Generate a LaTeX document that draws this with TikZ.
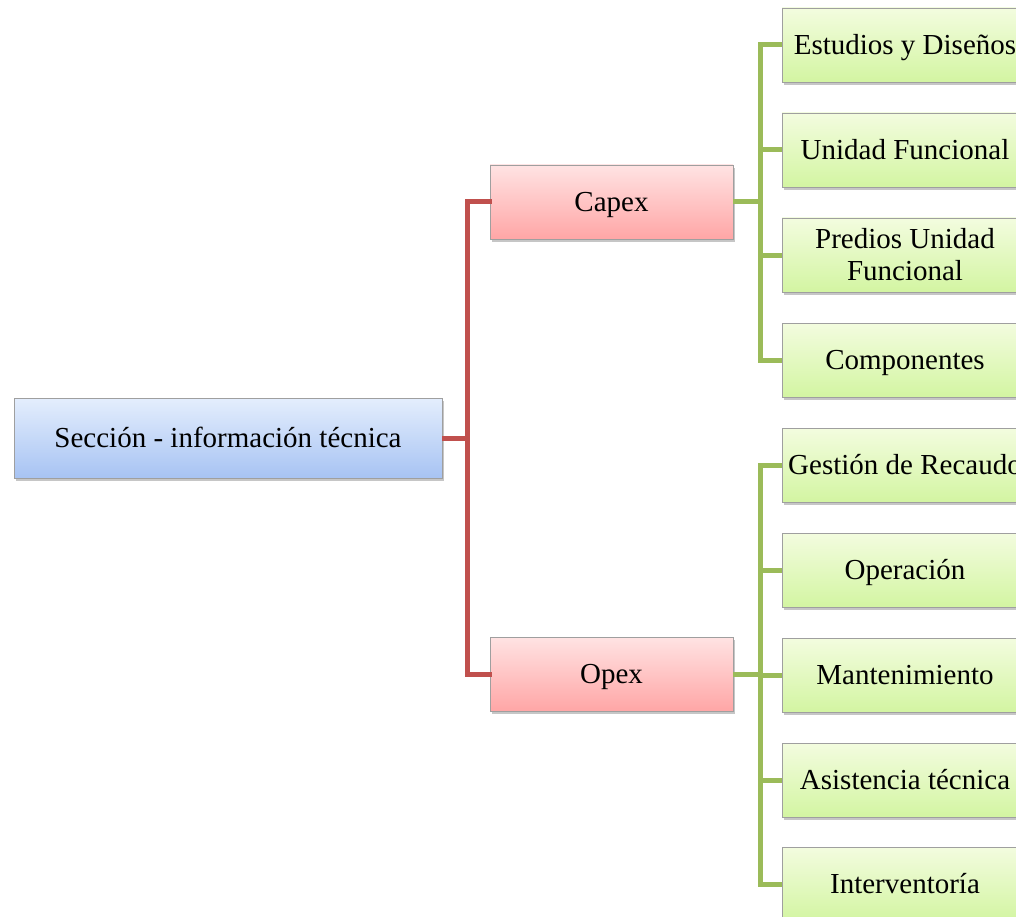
\documentclass[tikz,border=0pt]{standalone}
\usepackage{fontspec}
\setmainfont{Liberation Serif}
\usetikzlibrary{shadows}
\definecolor{rootTop}{HTML}{E4EEFD}
\definecolor{rootBot}{HTML}{A7C3F3}
\definecolor{midTop}{HTML}{FFE3E3}
\definecolor{midBot}{HTML}{FFA6A6}
\definecolor{leafTop}{HTML}{F3FCDF}
\definecolor{leafBot}{HTML}{D3F5A2}
\definecolor{redbus}{HTML}{C0504D}
\definecolor{greenbus}{HTML}{9BBB59}
\tikzstyle{basebox} = [draw=gray!75, rectangle, align=center, font=\fontsize{29}{32}\selectfont, drop shadow={shadow xshift=2pt, shadow yshift=-3pt, opacity=0.45}]
\tikzstyle{oneline} = [text height=25pt, text depth=6pt]
\tikzstyle{rootbox} = [basebox, oneline, top color=rootTop, bottom color=rootBot, minimum width=428pt, minimum height=80pt]
\tikzstyle{midbox} = [basebox, oneline, top color=midTop, bottom color=midBot, minimum width=243pt, minimum height=74pt]
\tikzstyle{leafshade} = [basebox, top color=leafTop, bottom color=leafBot, minimum width=246pt, minimum height=74pt, inner sep=0pt]
\tikzstyle{leafbox} = [leafshade, oneline]
\tikzstyle{redline} = [draw=redbus, line width=5pt]
\tikzstyle{greenline} = [draw=greenbus, line width=5pt]

\begin{document}
\begin{tikzpicture}[x=1pt, y=-1pt]
\useasboundingbox (0,0) rectangle (1016,917);
\clip (0,0) rectangle (1016,917);

% root and the two groups
\node[rootbox] (root) at (228,438) {Sección - información técnica};
\node[midbox] (capex) at (611.5,202) {Capex};
\node[midbox] (opex) at (611.5,674) {Opex};

% leaves
\node[leafbox] (c1) at (905,45) {Estudios y Diseños};
\node[leafbox] (c2) at (905,150) {Unidad Funcional};
\node[leafshade] (c3) at (905,255) {Predios Unidad\\Funcional};
\node[leafbox] (c4) at (905,360) {Componentes};
\node[leafbox] (o1) at (905,465) {Gestión de Recaudo};
\node[leafbox] (o2) at (905,570) {Operación};
\node[leafbox] (o3) at (905,675) {Mantenimiento};
\node[leafbox] (o4) at (905,780) {Asistencia técnica};
\node[leafbox] (o5) at (905,884) {Interventoría};

% connectors
\coordinate (rbus) at (467,438);
\coordinate (cbus) at (760,202);
\coordinate (obus) at (760,674);
\draw[redline] (root.east) -- (rbus);
\foreach \m in {capex,opex}
  \draw[redline, line cap=rect] (rbus) |- (\m.west);
\draw[greenline] (capex.east) -- (cbus);
\foreach \l in {c1,c2,c3,c4}
  \draw[greenline] (cbus) |- (\l.west);
\draw[greenline] (opex.east) -- (obus);
\foreach \l in {o1,o2,o3,o4,o5}
  \draw[greenline] (obus) |- (\l.west);
\end{tikzpicture}
\end{document}
